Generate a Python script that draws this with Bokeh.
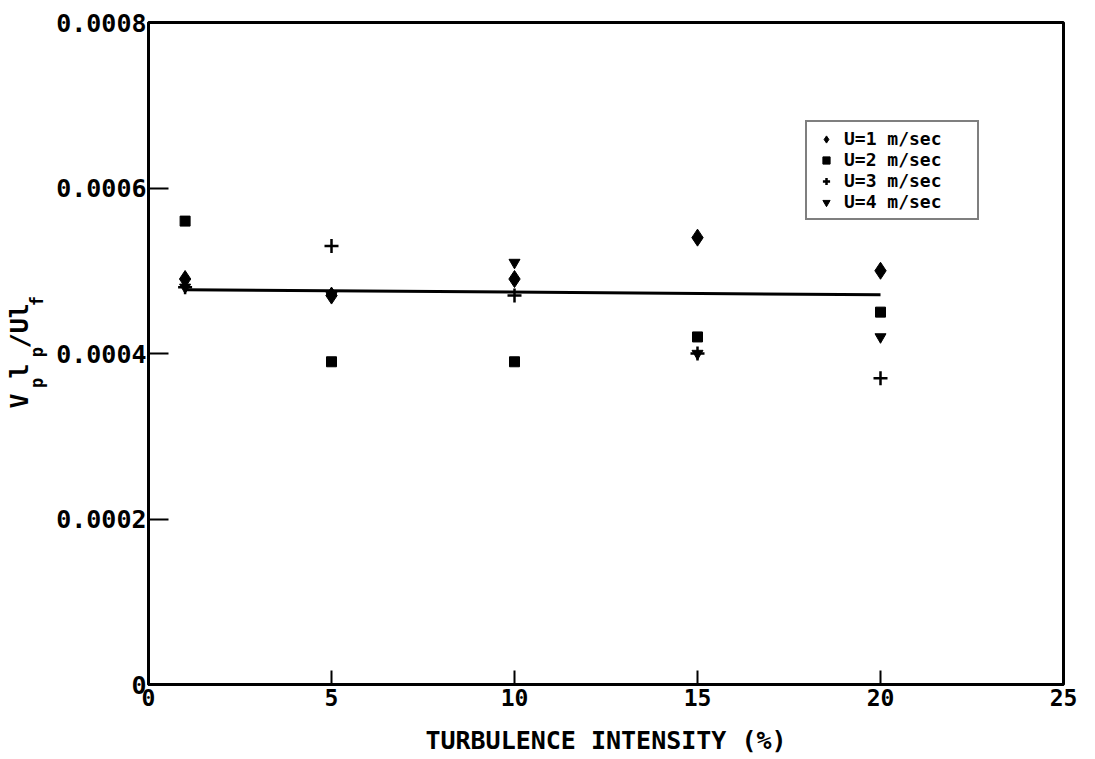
import math
from bokeh.plotting import figure
from bokeh.models import Range1d, FixedTicker, NumeralTickFormatter, Title, Legend, LegendItem
from bokeh.embed import file_html
from bokeh.resources import INLINE

# ---- data ----
intensity = [1, 5, 10, 15, 20]
u1 = [0.00049, 0.00047, 0.00049, 0.00054, 0.00050]
u2 = [0.00056, 0.00039, 0.00039, 0.00042, 0.00045]
u3 = [0.00048, 0.00053, 0.00047, 0.00040, 0.00037]
u4 = [0.00048, 0.00047, 0.00051, 0.00040, 0.00042]
fit_x = [1, 20]
fit_y = [0.000477, 0.000471]
series_names = ["U=1 m/sec", "U=2 m/sec", "U=3 m/sec", "U=4 m/sec"]
x_ticks = [0, 5, 10, 15, 20, 25]
y_ticks = [0, 0.0002, 0.0004, 0.0006, 0.0008]
y_label_main = "V\u00a0l\u00a0/Ul"            # V_p l_p / U l_f  (main characters)
y_label_subs = "\u00a0\u00a0p\u00a0\u00a0p\u00a0\u00a0\u00a0\u00a0f"  # subscripts

FONT = "DejaVu Sans Mono"

FL, FT, FR, FB = 148, 22, 1063, 689   # frame edges (px)
W, H = 1093, 757

p = figure(width=W, height=H, output_backend="svg", toolbar_location=None,
           x_range=Range1d(0, 25), y_range=Range1d(0, 0.0008),
           min_border_left=FL, min_border_right=W - FR, min_border_top=FT, min_border_bottom=H - FB)
p.background_fill_color = "white"
p.border_fill_color = "white"
p.grid.visible = False
p.outline_line_color = "black"
p.outline_line_width = 3

for ax in (p.xaxis[0], p.yaxis[0]):
    ax.axis_line_width = 3
    ax.axis_line_color = "black"
    ax.major_tick_out = 0
    ax.minor_tick_line_color = None
    ax.major_tick_line_width = 2
    ax.major_label_text_font = FONT
    ax.major_label_text_font_style = "bold"
    ax.major_label_text_color = "black"

p.xaxis.ticker = FixedTicker(ticks=x_ticks)
p.xaxis.major_tick_in = 14
p.xaxis.major_label_text_font_size = "23px"
p.xaxis.major_label_standoff = 4
p.xaxis.axis_label = "TURBULENCE INTENSITY (%)"
p.xaxis.axis_label_text_font = FONT
p.xaxis.axis_label_text_font_style = "bold"
p.xaxis.axis_label_text_font_size = "25px"
p.xaxis.axis_label_text_color = "black"
p.xaxis.axis_label_standoff = 17

p.yaxis.ticker = FixedTicker(ticks=y_ticks)
p.yaxis.formatter = NumeralTickFormatter(format="0.[0000]")
p.yaxis.major_tick_in = 20
p.yaxis.major_label_text_font_size = "25px"
p.yaxis.major_label_standoff = 2
# blank spacer label to widen the axis panel a little
p.yaxis.axis_label = "\u00a0"
p.yaxis.axis_label_text_font_size = "8px"
p.yaxis.axis_label_standoff = 8

# fit line
p.line(fit_x, fit_y, line_color="black", line_width=3)

r1 = p.scatter(intensity, u1, marker="diamond", size=17, color="black")
r2 = p.scatter(intensity, u2, marker="square", size=10, color="black")
r3 = p.scatter(intensity, u3, marker="cross", size=14, color="black", line_width=2.5)
r4 = p.scatter(intensity, u4, marker="inverted_triangle", size=11, color="black")

legend = Legend(items=[LegendItem(label=n, renderers=[r]) for n, r in zip(series_names, [r1, r2, r3, r4])],
                location=(657, 464), label_text_font=FONT, label_text_font_size="18px",
                label_text_font_style="bold", label_text_color="black",
                border_line_color="black", border_line_width=2, spacing=0,
                label_height=18, glyph_height=18, label_width=127,
                padding=6, glyph_width=26, label_standoff=5, background_fill_alpha=1)
p.add_layout(legend, "center")

# rotated y-axis label with subscripts: two side titles (subscripts nearer the axis)
start = FB - 413
p.add_layout(Title(text=y_label_subs, text_font=FONT, text_font_size="17px", text_font_style="bold",
                   text_color="black", align="left", offset=start, standoff=-27), "left")
p.add_layout(Title(text=y_label_main, text_font=FONT, text_font_size="25px", text_font_style="bold",
                   text_color="black", align="left", offset=start, standoff=0), "left")

open("out.html", "w").write(file_html(p, INLINE))
